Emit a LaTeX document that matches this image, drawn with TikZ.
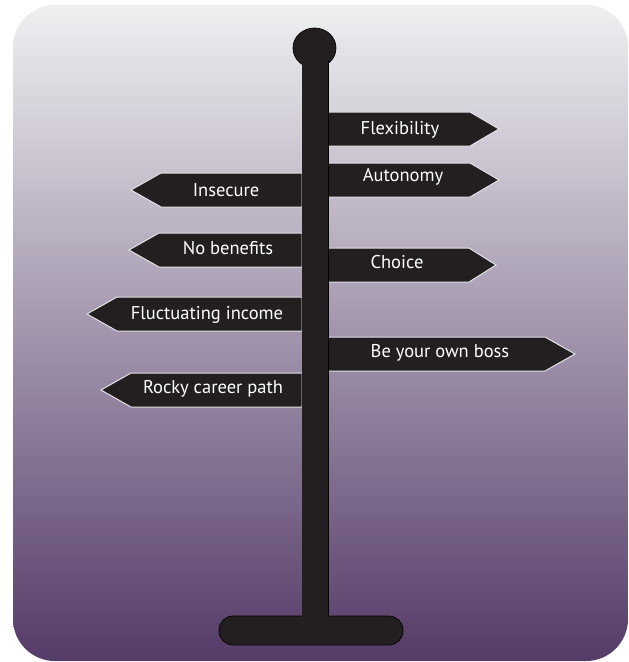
\documentclass[tikz,border=0pt]{standalone}
\usepackage{fontspec}
\setmainfont{PT Sans}
\definecolor{bgtop}{HTML}{EFEFF1}
\definecolor{bgbot}{HTML}{553B68}
\definecolor{signfill}{HTML}{231F20}
\definecolor{signedge}{HTML}{E4E2E6}
\begin{document}
\begin{tikzpicture}[x=1pt,y=-1pt,
  signbox/.style={fill=signfill, draw=signedge, line width=1pt, line join=miter},
  postpart/.style={fill=signfill, draw=black, line width=0.7pt},
  signtext/.style={text=white, font=\fontsize{18.5}{20}\selectfont, anchor=base, inner sep=0pt}]
\useasboundingbox (0,0) rectangle (629,662);
\fill[white] (0,0) rectangle (629,662);
% background panel
\shade[top color=bgtop, bottom color=bgbot, rounded corners=42pt] (13,5) rectangle (628,661);
% right signs
\path[signbox] (328,112) -- (470,112) -- (499,129) -- (470,146) -- (328,146) -- cycle;
\path[signbox] (328,163) -- (470,163) -- (499,180) -- (470,197) -- (328,197) -- cycle;
\path[signbox] (328,248) -- (469,248) -- (496,265) -- (469,282) -- (328,282) -- cycle;
\path[signbox] (328,337) -- (545,337) -- (575,354) -- (545,371) -- (328,371) -- cycle;
% left signs
\path[signbox] (302,173) -- (161,173) -- (131,190) -- (161,207) -- (302,207) -- cycle;
\path[signbox] (302,233) -- (159,233) -- (129,250) -- (159,267) -- (302,267) -- cycle;
\path[signbox] (302,297) -- (117,297) -- (87,314) -- (117,331) -- (302,331) -- cycle;
\path[signbox] (302,373) -- (131,373) -- (101,390) -- (131,407) -- (302,407) -- cycle;
% post
\path[postpart] (314.5,48) ellipse [x radius=21.5, y radius=20];
\path[postpart] (302,60) rectangle (328,620);
\path[postpart, rounded corners=14pt] (219,616) rectangle (403,645);
\fill[signfill] (302.4,55) rectangle (327.6,625);
% texts
\node[signtext] (flex) at (400,134) {Flexibility};
\node[signtext] (auto) at (403,181) {Autonomy};
\node[signtext] (choice) at (397,268.5) {Choice};
\node[signtext] (boss) at (440,357) {Be your own boss};
\node[signtext] (insec) at (226,196) {Insecure};
\node[signtext] (nobene) at (228,254) {No benefits};
\node[signtext] (fluct) at (207,319) {Fluctuating income};
\node[signtext] (rocky) at (213,393) {Rocky career path};
\end{tikzpicture}
\end{document}
